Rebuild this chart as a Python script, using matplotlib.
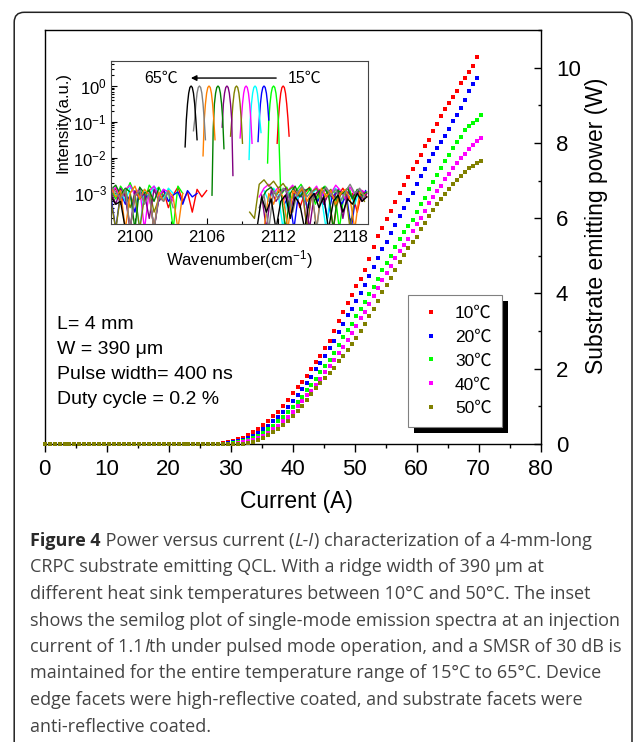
import numpy as np
import matplotlib
matplotlib.use("Agg")
import matplotlib.pyplot as plt
from matplotlib.patches import FancyBboxPatch, Rectangle
from matplotlib.transforms import IdentityTransform
from matplotlib.ticker import MultipleLocator, LogLocator, NullFormatter

plt.rcParams['font.family'] = ['Liberation Sans', 'Noto Sans CJK SC', 'DejaVu Sans']
plt.rcParams['mathtext.default'] = 'regular'

W, H = 633, 742
nan = np.nan

# ---------------- L-I data ----------------
# below threshold every curve sits at zero power
flat_current = np.arange(0, 28, 0.8)
current = [28.0, 28.8, 29.6, 30.4, 31.2, 32.0, 32.8, 33.6, 34.4, 35.2,
           36.0, 36.8, 37.6, 38.4, 39.2, 40.0, 40.8, 41.5, 42.3, 43.0,
           43.8, 44.5, 45.3, 46.0, 46.7, 47.5, 48.2, 48.9, 49.6, 50.3,
           51.0, 51.7, 52.4, 53.1, 53.8, 54.5, 55.2, 55.9, 56.6, 57.3,
           58.0, 58.7, 59.35, 60.05, 60.7, 61.35, 62.0, 62.65, 63.3, 63.95,
           64.6, 65.25, 65.9, 66.55, 67.2, 67.85, 68.5, 69.15, 69.8, 70.45]

power_10C = [0.01, 0.03, 0.05, 0.08, 0.12, 0.17, 0.23, 0.31, 0.40, 0.50,
             0.62, 0.74, 0.86, 1.00, 1.17, 1.35, 1.52, 1.65, 1.82, 1.99,
             2.18, 2.35, 2.54, 2.74, 3.00, 3.28, 3.52, 3.74, 3.97, 4.20,
             4.38, 4.62, 4.92, 5.24, 5.53, 5.75, 5.98, 6.19, 6.44, 6.67,
             6.88, 7.09, 7.31, 7.48, 7.69, 7.91, 8.08, 8.31, 8.50, 8.72,
             8.91, 9.05, 9.23, 9.38, 9.59, 9.73, 9.89, 10.04, 10.28, nan]
power_20C = [0.0, 0.01, 0.02, 0.04, 0.07, 0.11, 0.16, 0.22, 0.30, 0.39,
             0.49, 0.60, 0.72, 0.85, 0.99, 1.14, 1.30, 1.45, 1.62, 1.79,
             1.98, 2.14, 2.33, 2.56, 2.75, 2.98, 3.19, 3.42, 3.60, 3.80,
             4.01, 4.23, 4.46, 4.70, 4.93, 5.17, 5.38, 5.60, 5.83, 6.05,
             6.27, 6.48, 6.68, 6.90, 7.11, 7.32, 7.52, 7.70, 7.86, 8.03,
             8.19, 8.38, 8.57, 8.75, 8.93, 9.13, 9.38, 9.56, 9.72, nan]
power_30C = [0.0, 0.0, 0.01, 0.02, 0.04, 0.07, 0.11, 0.16, 0.22, 0.30,
             0.39, 0.49, 0.60, 0.72, 0.85, 0.98, 1.12, 1.26, 1.44, 1.57,
             1.72, 1.90, 2.07, 2.22, 2.42, 2.62, 2.83, 3.02, 3.19, 3.39,
             3.59, 3.78, 3.98, 4.16, 4.38, 4.61, 4.82, 5.00, 5.24, 5.44,
             5.62, 5.80, 5.96, 6.16, 6.37, 6.54, 6.78, 6.96, 7.16, 7.34,
             7.52, 7.68, 7.86, 8.02, 8.16, 8.33, 8.45, 8.53, 8.61, 8.75]
power_40C = [0.0, 0.0, 0.0, 0.01, 0.02, 0.04, 0.07, 0.11, 0.16, 0.22,
             0.30, 0.39, 0.49, 0.60, 0.72, 0.86, 1.00, 1.13, 1.29, 1.42,
             1.58, 1.73, 1.90, 2.07, 2.23, 2.42, 2.59, 2.77, 2.96, 3.14,
             3.34, 3.52, 3.72, 3.93, 4.15, 4.36, 4.55, 4.73, 4.94, 5.13,
             5.30, 5.46, 5.65, 5.85, 6.01, 6.18, 6.40, 6.56, 6.71, 6.86,
             7.04, 7.17, 7.33, 7.46, 7.59, 7.71, 7.85, 7.95, 8.04, 8.14]
power_50C = [0.0, 0.0, 0.0, 0.0, 0.0, 0.01, 0.03, 0.06, 0.10, 0.16,
             0.23, 0.31, 0.40, 0.50, 0.61, 0.74, 0.87, 1.00, 1.16, 1.32,
             1.48, 1.62, 1.75, 1.88, 2.02, 2.20, 2.33, 2.51, 2.66, 2.82,
             3.01, 3.20, 3.39, 3.58, 3.80, 4.03, 4.23, 4.42, 4.61, 4.84,
             5.02, 5.22, 5.36, 5.51, 5.70, 5.86, 6.05, 6.23, 6.38, 6.50,
             6.64, 6.78, 6.91, 7.02, 7.13, 7.24, 7.33, 7.39, 7.46, 7.51]

li_labels = ['10\u2103', '20\u2103', '30\u2103', '40\u2103', '50\u2103']
li_colors = ['#ff0000', '#0000ff', '#00ff00', '#ff00ff', '#808000']
li_powers = [power_10C, power_20C, power_30C, power_40C, power_50C]

# ---------------- inset spectra (15..65 C) ----------------
spec_colors = ['#ff0000', '#00ff00', '#0000ff', '#00ffff', '#ff00ff', '#808000',
               '#800080', '#008000', '#ff8000', '#808080', '#000000']
peak_centers = [2112.4, 2111.6, 2110.8, 2110.05, 2109.3, 2108.5,
                2107.7, 2106.95, 2106.2, 2105.4, 2104.7]
peak_offsets = [-0.6, -0.5, -0.4, -0.3, -0.2, -0.1, 0.0, 0.1, 0.2, 0.3, 0.4, 0.5, 0.6]
# log10 intensity around each peak
peak_logs = [
    [nan, -1.6, -0.95, -0.5, -0.2, -0.04, 0, -0.04, -0.2, -0.5, -0.9, -1.4, nan],
    [nan, -2.15, -0.95, -0.5, -0.2, -0.04, 0, -0.04, -0.2, -0.5, -0.95, -2.0, -3.0],
    [nan, -1.55, -0.95, -0.5, -0.2, -0.04, 0, -0.04, -0.2, -0.5, -0.95, nan, nan],
    [nan, -2.05, -0.95, -0.5, -0.2, -0.04, 0, -0.04, -0.2, -0.5, -0.95, -1.3, nan],
    [nan, -1.45, -0.95, -0.5, -0.2, -0.04, 0, -0.04, -0.2, -0.5, -0.95, -1.6, nan],
    [nan, -1.4, -0.95, -0.5, -0.2, -0.04, 0, -0.04, -0.2, -0.5, -0.95, -1.6, nan],
    [nan, nan, -1.15, -0.5, -0.2, -0.04, 0, -0.04, -0.2, -0.5, -0.95, -2.5, nan],
    [nan, -3.05, -1.2, -0.5, -0.2, -0.04, 0, -0.04, -0.2, -0.5, -0.95, -1.75, nan],
    [nan, -1.95, -0.95, -0.5, -0.2, -0.04, 0, -0.04, -0.2, -0.5, -0.95, -1.5, nan],
    [nan, -1.25, -0.95, -0.5, -0.2, -0.04, 0, -0.04, -0.2, -0.5, -0.95, -1.5, nan],
    [nan, -1.7, -0.95, -0.5, -0.2, -0.04, 0, -0.04, -0.2, -0.5, -0.95, -1.5, nan],
]
# noise floor, units of 1e-4, sampled every 0.4 cm-1
noise_step = 0.4
noise_left_start = 2098.0
noise_left = [
    [9, 14, 5, 11, 1, 8, 13, 6, 10, 1, 7, 12, 4, 9, 15, 6, 11, 3, 13, 8, 12],
    [12, 7, 16, 10, 20, 9, 14, 6, 17, 11, 15, 8, 13, 1, 16, 10],
    [8, 1, 11, 5, 9, 3, 12, 7, 10, 1, 8, 13, 6, 9, 11, 5, 12, 8, 10],
    [14, 9, 12, 6, 15, 10, 1, 13, 8, 16, 11, 7, 14, 10],
    [10, 15, 7, 13, 17, 9, 14, 1, 12, 16, 8, 13, 11, 6],
    [6, 1, 9, 12, 4, 10, 1, 8, 13, 3, 7],
    [11, 5, 14, 8, 1, 12, 7, 10, 2, 13, 6, 9],
    [13, 17, 9, 14, 11, 1, 15, 10, 12, 6, 14],
    [15, 8, 12, 1, 10, 16, 7, 13, 9, 1, 11, 6, 12, 8, 1, 10],
    [16, 11, 7, 13, 1, 9, 12, 5, 10, 1, 8, 6, 11, 4],
    [8, 5, 6, 1],
]
noise_right_start = [2113.0, 2112.3, 2112.5, 2110.8, 2110.4, 2109.6,
                     2110.6, 2110.6, 2110.8, 2110.4, 2110.2]
noise_right = [
    [6, 12, 4, 10, 15, 8, 13, 5, 11, 1, 9, 14, 7, 10, 3, 12, 8],
    [10, 15, 7, 12, 18, 9, 14, 5, 11, 16, 8, 13, 1, 10, 15, 6, 12, 9],
    [5, 9, 1, 11, 7, 4, 10, 6, 12, 2, 8, 11, 5, 9, 1, 10, 7, 12],
    [12, 6, 14, 9, 1, 11, 15, 7, 12, 4, 10, 13, 8, 1, 11, 14, 6, 12, 9, 5, 13, 8],
    [8, 14, 18, 10, 15, 6, 12, 17, 9, 13, 1, 11, 16, 8, 14, 10, 17, 12, 7, 15, 9, 13, 11],
    [3, 2, 18, 24, 16, 22, 14, 19, 12, 15, 9, 13, 1, 11, 14, 6, 10, 13, 4, 9, 12, 1, 8, 11, 6],
    [9, 1, 12, 6, 10, 14, 3, 11, 8, 13, 1, 9, 12, 5, 10, 7, 13, 2, 11, 8, 12, 6, 10],
    [7, 12, 15, 9, 13, 1, 10, 16, 8, 12, 14, 6, 11, 15, 9, 1, 12, 10, 14, 7, 13, 9, 11],
    [1, 10, 5, 13, 8, 1, 12, 9, 15, 6, 11, 1, 14, 8, 12, 5, 10, 13, 7, 1, 11, 9],
    [4, 9, 1, 12, 7, 14, 10, 3, 11, 16, 8, 12, 1, 10, 15, 9, 13, 6, 11, 18, 10, 14, 8],
    [1, 8, 3, 7, 1, 6, 9, 2, 8, 5, 1, 7, 10, 4, 8, 1, 6, 9, 3, 7, 5, 10, 6, 8],
]

# ---------------- figure ----------------
fig = plt.figure(figsize=(W / 100, H / 100), dpi=100)

def px_rect(left, top, right, bottom):
    return [left / W, 1 - bottom / H, (right - left) / W, (bottom - top) / H]

ax = fig.add_axes(px_rect(44.7, 30, 540.5, 444))
for p, c, lab in zip(li_powers, li_colors, li_labels):
    x = np.concatenate([flat_current, current])
    y = np.concatenate([np.zeros(len(flat_current)), p])
    ax.plot(x, y, 's', color=c, ms=3.1, mew=0, label=lab, clip_on=False, zorder=3)

ax.set_xlim(0, 80)
ax.set_ylim(0, 11)
ax.xaxis.set_major_locator(MultipleLocator(10))
ax.xaxis.set_minor_locator(MultipleLocator(5))
ax.yaxis.set_major_locator(MultipleLocator(2))
ax.yaxis.set_minor_locator(MultipleLocator(1))
ax.yaxis.tick_right()
ax.tick_params(axis='x', which='both', direction='out', top=False, labelsize=16, pad=5)
ax.tick_params(axis='x', which='major', length=5.5, width=1)
ax.tick_params(axis='x', which='minor', length=3, width=1)
ax.tick_params(axis='y', which='both', direction='in', left=False, right=True, labelsize=16, pad=11)
ax.tick_params(axis='y', which='major', length=5, width=1)
ax.tick_params(axis='y', which='minor', length=2.5, width=1)
for s in ax.spines.values():
    s.set_linewidth(1.0)

ax.set_xlabel('Current (A)', fontsize=16.5)
ax.xaxis.set_label_coords(0.507, -0.138)
ax.xaxis.label.set_va('center')
ax.yaxis.set_label_position('right')
ax.set_ylabel('Substrate emitting power (W)', fontsize=16.5, rotation=90)
ax.yaxis.set_label_coords(1.112, 0.527)
ax.yaxis.label.set_va('center')
ax.yaxis.label.set_ha('center')

for txt, yy in zip(['L= 4 mm', 'W = 390 \u03bcm', 'Pulse width= 400 ns', 'Duty cycle = 0.2 %'],
                   [0.2770, 0.2166, 0.1563, 0.0959]):
    ax.text(0.0242, yy, txt, transform=ax.transAxes, fontsize=14, va='baseline', ha='left')

leg = ax.legend(loc='upper left', bbox_to_anchor=(0.7328, 0.360), borderaxespad=0,
                fontsize=12.5, frameon=True, fancybox=False, framealpha=1,
                edgecolor='#808080', borderpad=0.62, handlelength=1.4,
                handletextpad=0.68, labelspacing=0.5, markerscale=1.0)
leg.get_frame().set_linewidth(0.8)

# ---------------- inset ----------------
axi = fig.add_axes(px_rect(111, 61, 368, 224))
for i in range(len(spec_colors)):
    c = spec_colors[i]
    xl = noise_left_start + noise_step * np.arange(len(noise_left[i]))
    axi.plot(xl, np.array(noise_left[i]) * 1e-4, color=c, lw=1.0)
    xr = noise_right_start[i] + noise_step * np.arange(len(noise_right[i]))
    axi.plot(xr, np.array(noise_right[i]) * 1e-4, color=c, lw=1.0)
    xp = peak_centers[i] + np.array(peak_offsets)
    axi.plot(xp, 10.0 ** np.array(peak_logs[i]), color=c, lw=1.0)

axi.set_yscale('log')
axi.set_xlim(2098.0, 2119.5)
axi.set_ylim(1.4e-4, 5)
axi.xaxis.set_major_locator(MultipleLocator(6))
axi.xaxis.set_minor_locator(MultipleLocator(3))
axi.yaxis.set_major_locator(LogLocator(base=10, numticks=10))
axi.yaxis.set_minor_locator(LogLocator(base=10, subs=np.arange(2, 10), numticks=10))
axi.yaxis.set_minor_formatter(NullFormatter())
axi.tick_params(which='both', labelsize=12, width=0.8)
axi.tick_params(axis='x', which='major', direction='in', length=4, pad=4)
axi.tick_params(axis='x', which='minor', direction='in', length=2)
axi.tick_params(axis='y', which='major', direction='in', length=4, pad=3)
axi.tick_params(axis='y', which='minor', direction='in', length=2)
for s in axi.spines.values():
    s.set_linewidth(0.8)
    s.set_color('#444444')
axi.set_xlabel('Wavenumber(cm$^{-1}$)', fontsize=12)
axi.xaxis.set_label_coords(0.498, -0.221)
axi.xaxis.label.set_va('center')
axi.set_ylabel('Intensity(a.u.)', fontsize=12)
axi.yaxis.set_label_coords(-0.187, 0.623)
axi.yaxis.label.set_va('center')

axi.annotate('', xy=(2104.45, 1.67), xytext=(2112.05, 1.67),
             arrowprops=dict(arrowstyle='-|>', color='k', lw=1.0, mutation_scale=8))
axi.text(2103.6, 1.67, '65\u2103', fontsize=11.5, ha='right', va='center')
axi.text(2112.8, 1.67, '15\u2103', fontsize=11.5, ha='left', va='center')

# ---------------- frame + legend shadow ----------------
border = FancyBboxPatch((14.2, -30), 632 - 14.2, H - 12.3 + 30,
                        boxstyle='round,pad=0,rounding_size=10',
                        transform=IdentityTransform(), fill=False,
                        edgecolor='#222222', lw=1.1)
fig.patches.append(border)

fig.canvas.draw()
renderer = fig.canvas.get_renderer()
bb = leg.get_window_extent(renderer)
shadow = Rectangle((bb.x0 + 6, bb.y0 - 6), bb.width, bb.height,
                   transform=IdentityTransform(), facecolor='k', edgecolor='none', zorder=4.9)
ax.add_artist(shadow)

# ---------------- caption ----------------
cap_color = '#444444'
cap_font = dict(family=['Open Sans', 'DejaVu Sans'], fontsize=13, color=cap_color)
caption = [
    [('Figure 4', 'bold'), (' Power versus current (', 'normal'), ('L-I', 'italic'),
     (') characterization of a 4-mm-long', 'normal')],
    [('CRPC substrate emitting QCL. With a ridge width of 390 \u00b5m at', 'normal')],
    [('different heat sink temperatures between 10\u00b0C and 50\u00b0C. The inset', 'normal')],
    [('shows the semilog plot of single-mode emission spectra at an injection', 'normal')],
    [('current of 1.1', 'normal'), ('I', 'italic'),
     ('th under pulsed mode operation, and a SMSR of 30 dB is', 'normal')],
    [('maintained for the entire temperature range of 15\u00b0C to 65\u00b0C. Device', 'normal')],
    [('edge facets were high-reflective coated, and substrate facets were', 'normal')],
    [('anti-reflective coated.', 'normal')],
]
y0 = 546
for k, pieces in enumerate(caption):
    xx = 30.5
    yy = y0 + 26.5 * k
    for txt, style in pieces:
        kw = dict(cap_font)
        if style == 'bold':
            kw['fontweight'] = 'bold'
            kw['color'] = '#2a2a2a'
        if style == 'italic':
            kw['fontstyle'] = 'italic'
        t = fig.text(xx / W, 1 - yy / H, txt, va='baseline', ha='left', **kw)
        xx += t.get_window_extent(renderer).width

fig.savefig('out.png', dpi=100)
